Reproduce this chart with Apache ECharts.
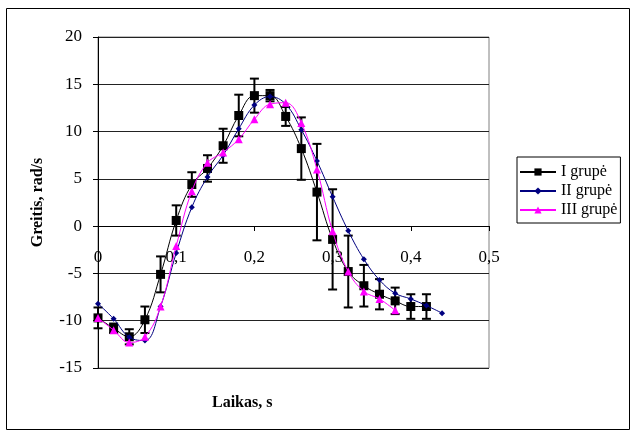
<!DOCTYPE html>
<html>
<head>
<meta charset="utf-8">
<script src="https://cdn.jsdelivr.net/npm/echarts@6/dist/echarts.min.js"></script>
<style>
  html, body { margin: 0; padding: 0; background: #fff; }
  #chart { width: 632px; height: 432px; }
</style>
</head>
<body>
<div id="chart"></div>
<script>
// time points, s
const timeI = [0, 0.02, 0.04, 0.06, 0.08, 0.1, 0.12, 0.14, 0.16, 0.18, 0.2, 0.22, 0.24, 0.26, 0.28, 0.3, 0.32, 0.34, 0.36, 0.38, 0.4, 0.42]
const timeII = [0, 0.02, 0.04, 0.06, 0.08, 0.1, 0.12, 0.14, 0.16, 0.18, 0.2, 0.22, 0.24, 0.26, 0.28, 0.3, 0.32, 0.34, 0.36, 0.38, 0.4, 0.42, 0.44]
const timeIII = [0, 0.02, 0.04, 0.06, 0.08, 0.1, 0.12, 0.14, 0.16, 0.18, 0.2, 0.22, 0.24, 0.26, 0.28, 0.3, 0.32, 0.34, 0.36, 0.38]

// speed, rad/s
const speedI = [-9.7, -10.8, -11.7, -9.9, -5.1, 0.6, 4.4, 6.1, 8.5, 11.7, 13.8, 13.8, 11.6, 8.2, 3.6, -1.4, -4.8, -6.3, -7.2, -7.9, -8.5, -8.5]
const errorI = [1.1, 0.5, 0.8, 1.4, 1.9, 1.6, 1.3, 1.4, 1.8, 2.2, 1.8, 0.6, 1.0, 3.3, 5.1, 5.3, 3.8, 2.2, 1.6, 1.4, 1.3, 1.3]
const speedII = [-8.2, -9.8, -11.75, -12.1, -8.5, -2.85, 2.0, 5.2, 7.5, 10.3, 12.8, 13.7, 12.9, 10.2, 6.9, 3.1, -0.5, -3.5, -5.7, -7.1, -7.7, -8.4, -9.2]
const speedIII = [-9.7, -11.0, -12.3, -11.7, -8.5, -2.1, 3.7, 6.7, 7.8, 9.2, 11.3, 12.9, 13.05, 10.9, 6.0, -0.55, -4.8, -6.9, -7.7, -8.9]

const seriesNames = ['I grupė', 'II grupė', 'III grupė']
const xTitle = 'Laikas, s'
const yTitle = 'Greitis, rad/s'

const serif = 'Liberation Serif'

function zip (xs, ys) {
  return xs.map((x, i) => [x, ys[i]])
}

const chart = echarts.init(document.getElementById('chart'))

const option = {
  animation: false,
  backgroundColor: '#fff',
  grid: {
    left: 98,
    right: 143,
    top: 37,
    bottom: 64,
    show: true,
    borderColor: '#808080',
    borderWidth: 1
  },
  legend: {
    data: seriesNames,
    orient: 'vertical',
    left: 517,
    top: 157,
    borderColor: '#000',
    borderWidth: 1,
    padding: [7, 3, 5, 2],
    itemWidth: 36,
    itemHeight: 9,
    itemGap: 3,
    textStyle: { fontFamily: serif, fontSize: 16, color: '#000' }
  },
  xAxis: {
    type: 'value',
    min: 0,
    max: 0.5,
    interval: 0.1,
    // x axis sits on y = 0 (15/35 of the plot height up from the bottom)
    offset: -142,
    axisLine: { onZero: false, lineStyle: { color: '#000', width: 1 } },
    axisTick: { show: true, length: 5, lineStyle: { color: '#000' } },
    axisLabel: {
      margin: 23,
      fontFamily: serif,
      fontSize: 17,
      color: '#000',
      formatter: v => String(Math.round(v * 10) / 10).replace('.', ',')
    },
    splitLine: { show: false }
  },
  yAxis: {
    type: 'value',
    min: -15,
    max: 20,
    interval: 5,
    name: yTitle,
    nameLocation: 'middle',
    nameGap: 52,
    nameRotate: 90,
    nameTextStyle: { fontFamily: serif, fontSize: 16, fontWeight: 'bold', color: '#000' },
    axisLine: { show: true, onZero: false, lineStyle: { color: '#000', width: 1 } },
    axisTick: { show: true, length: 5, lineStyle: { color: '#000' } },
    axisLabel: { margin: 16, fontFamily: serif, fontSize: 17, color: '#000' },
    splitLine: { show: true, lineStyle: { color: '#222', width: 1 } }
  },
  graphic: [
    {
      type: 'rect',
      shape: { x: 6.5, y: 8.5, width: 623, height: 421 },
      style: { fill: null, stroke: '#000', lineWidth: 1 },
      silent: true
    },
    {
      type: 'text',
      left: 212,
      top: 395,
      style: { text: xTitle, font: 'bold 16px "Liberation Serif"', fill: '#000' }
    }
  ],
  series: [
    {
      name: seriesNames[0],
      type: 'line',
      data: zip(timeI, speedI),
      smooth: 0.4,
      symbol: 'rect',
      symbolSize: 9,
      lineStyle: { color: '#000', width: 1 },
      itemStyle: { color: '#000' },
      z: 2
    },
    {
      name: 'errors',
      type: 'custom',
      data: timeI.map((t, i) => [t, speedI[i], errorI[i]]),
      z: 3,
      renderItem (params, api) {
        const x = api.value(0)
        const y = api.value(1)
        const e = api.value(2)
        const top = api.coord([x, y + e])
        const bot = api.coord([x, y - e])
        const half = 4.5
        const style = { stroke: '#000', lineWidth: 2 }
        return {
          type: 'group',
          children: [
            { type: 'line', shape: { x1: top[0], y1: top[1], x2: bot[0], y2: bot[1] }, style },
            { type: 'line', shape: { x1: top[0] - half, y1: top[1], x2: top[0] + half, y2: top[1] }, style },
            { type: 'line', shape: { x1: bot[0] - half, y1: bot[1], x2: bot[0] + half, y2: bot[1] }, style }
          ]
        }
      }
    },
    {
      name: seriesNames[1],
      type: 'line',
      data: zip(timeII, speedII),
      smooth: 0.4,
      symbol: 'diamond',
      symbolSize: 6,
      lineStyle: { color: '#000080', width: 1 },
      itemStyle: { color: '#000080' },
      z: 4
    },
    {
      name: seriesNames[2],
      type: 'line',
      data: zip(timeIII, speedIII),
      smooth: 0.4,
      symbol: 'triangle',
      symbolSize: 8,
      lineStyle: { color: '#ff00ff', width: 1 },
      itemStyle: { color: '#ff00ff' },
      z: 5
    }
  ]
}

chart.setOption(option)
</script>
</body>
</html>
